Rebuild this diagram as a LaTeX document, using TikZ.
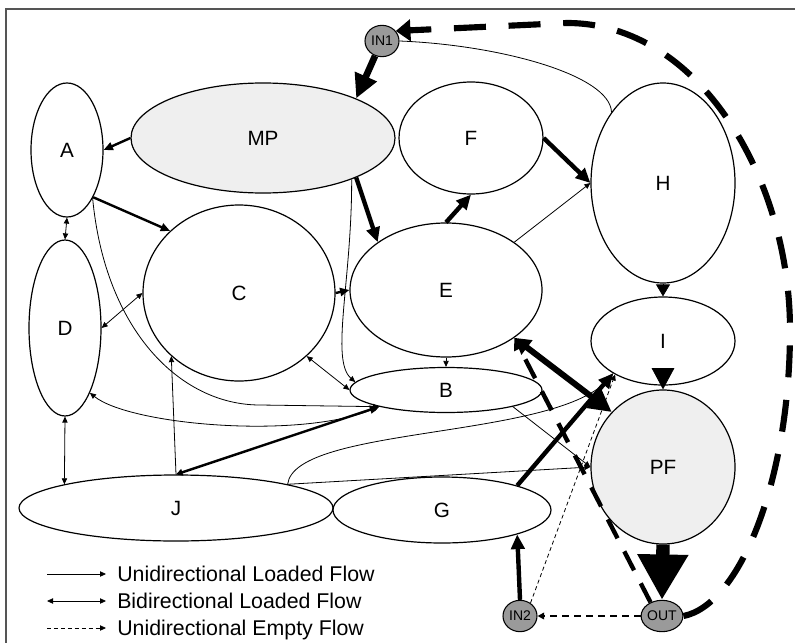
\documentclass[tikz,border=0pt]{standalone}
\usepackage{fontspec}
\setmainfont{Liberation Sans}
\usetikzlibrary{positioning,arrows.meta,shapes.geometric}
\definecolor{portgray}{HTML}{9A9A9A}
\definecolor{shade}{HTML}{EFEFEF}
\definecolor{framegray}{HTML}{555555}

\begin{document}
\begin{tikzpicture}[x=0.75pt,y=-0.75pt,
  blob/.style={ellipse,draw,line width=0.9pt,inner sep=0pt,font=\fontsize{15.5}{18}\selectfont},
  port/.style={ellipse,draw,line width=0.8pt,fill=portgray,inner sep=0pt,minimum width=25.5pt,minimum height=23.5pt,font=\fontsize{10.5}{12}\selectfont},
  lflow/.style={-{Triangle[length=4.5pt,width=4pt]},line width=0.6pt},
  bflow/.style={{Triangle[length=4.5pt,width=4pt]}-{Triangle[length=4.5pt,width=4pt]},line width=0.6pt},
  eflow/.style={-{Triangle[length=4.5pt,width=4pt]},line width=0.6pt,dash pattern=on 3pt off 2.2pt},
  medflow/.style={-{Triangle[length=7pt,width=6pt]},line width=1.8pt},
  fatflow/.style={-{Triangle[length=11pt,width=10pt]},line width=3.3pt},
  legtext/.style={anchor=west,inner xsep=8.25pt,inner ysep=0pt,text height=11pt,text depth=0pt,font=\fontsize{16}{19}\selectfont},
]
\useasboundingbox (0,0) rectangle (795,642);
\draw[framegray,line width=1.5pt] (6,9) rectangle (805,652);

% === NODES ===
\node[port] (in1) at (382,41) {IN1};
\node[blob,fill=shade,minimum width=198pt,minimum height=82.5pt] (mp) at (263,138) {MP};
\node[blob,minimum width=54pt,minimum height=100.5pt] (a) at (67,150) {A};
\node[blob,minimum width=108pt,minimum height=84pt] (f) at (471,138) {F};
\node[blob,minimum width=108pt,minimum height=150pt] (h) at (663,183) {H};
\node[blob,minimum width=144pt,minimum height=132pt] (c) at (239,293) {C};
\node[blob,minimum width=144pt,minimum height=100.5pt] (e) at (446,290) {E};
\node[blob,minimum width=54pt,minimum height=132pt] (d) at (65,328) {D};
\node[blob,minimum width=144pt,minimum height=33.75pt] (b) at (446,390) {B};
\node[blob,minimum width=108pt,minimum height=66pt] (i) at (663,341) {I};
\node[blob,fill=shade,minimum width=108pt,minimum height=115.5pt] (pf) at (663,467) {PF};
\node[blob,minimum width=235.5pt,minimum height=49.5pt] (j) at (176,508) {J};
\node[blob,minimum width=163.5pt,minimum height=49.5pt] (g) at (442,510) {G};
\node[port] (in2) at (520,616) {IN2};
\node[port] (out) at (662,616) {OUT};

% thin loaded flows
\draw[lflow] (a.-62) .. controls (105,330) and (180,405) .. (260,405) -- (b.194);
\draw[bflow] (d.-69) .. controls (130,425) and (300,440) .. (b.194);
\draw[lflow] (mp.-25) .. controls (352,280) and (330,360) .. (b.175);
\draw[bflow] (a.south) -- (d.north);
\draw[bflow] (d.east) -- (c.west);
\draw[bflow] (d.south) -- (j.168);
\draw[bflow] (c.-43) -- (b.west);
\draw[lflow] (j.north) -- (c.-137);
\draw[lflow] (e.35) -- (h.west);
\draw[lflow] (e.south) -- (b.north);
\draw[lflow] (b.-14) -- (pf.west);
\draw[lflow] (j.12) -- (pf.west);
\draw[lflow] (j.12) .. controls (295,425) and (560,440) .. (i.-147);
\draw[line width=0.6pt] (h.126) .. controls (610,75) and (500,45) .. (in1.east);
\draw[-{Triangle[length=9pt,width=10.5pt]},line width=0.6pt] (h.south) -- (i.north);
\draw[-{Triangle[length=16pt,width=17pt]},line width=0.6pt] (i.south) -- (pf.north);

% heavier loaded flows
\draw[medflow] (mp.west) -- (a.east);
\draw[medflow] (a.-61) -- (c.138);
\draw[medflow] (c.east) -- (e.west);
\draw[medflow,{Triangle[length=5pt,width=5pt]}-{Triangle[length=7pt,width=6pt]}] (j.north) -- (b.194);
\draw[fatflow] (mp.-23) -- (e.145);
\draw[fatflow] (e.north) -- (f.south);
\draw[fatflow] (f.east) -- (h.west);
\draw[fatflow] (g.18) -- (i.-147);
\draw[fatflow] (in2.north) -- (g.-18);
\draw[-{Triangle[length=18pt,width=17pt]},line width=5pt] (in1.-115) -- (mp.23);
\draw[{Triangle[length=12pt,width=13pt]}-{Triangle[length=17pt,width=17pt]},line width=4.5pt] (e.-35) -- (pf.133);
\draw[-{Triangle[length=34pt,width=36pt]},line width=10pt] (pf.south) -- (out.north);

% empty flows
\draw[eflow] (in2.51) -- (i.-145);
\draw[-{Triangle[length=5pt,width=5pt]},line width=1.5pt,dash pattern=on 5pt off 4pt] (out.west) -- (in2.east);
\draw[-{Triangle[length=9pt,width=9pt]},line width=3.3pt,dash pattern=on 16pt off 11pt] (out.130) -- (e.-35);
\draw[-{Triangle[length=11pt,width=16pt]},line width=4.6pt,dash pattern=on 24pt off 17pt]
  (out.east) .. controls (740,605) and (790,480) .. (790,330)
  .. controls (790,180) and (700,23) .. (567,23) -- (in1.36);

% === LEGEND ===
\coordinate (leg1a) at (47,574);
\coordinate (leg2a) at (47,601);
\coordinate (leg3a) at (47,628);
\node[legtext] (leg1) at (106,574) {Unidirectional Loaded Flow};
\node[legtext] (leg2) at (106,601) {Bidirectional Loaded Flow};
\node[legtext] (leg3) at (106,628) {Unidirectional Empty Flow};
\draw[lflow] (leg1a) -- (leg1.west);
\draw[bflow] (leg2a) -- (leg2.west);
\draw[eflow] (leg3a) -- (leg3.west);

\end{tikzpicture}
\end{document}
